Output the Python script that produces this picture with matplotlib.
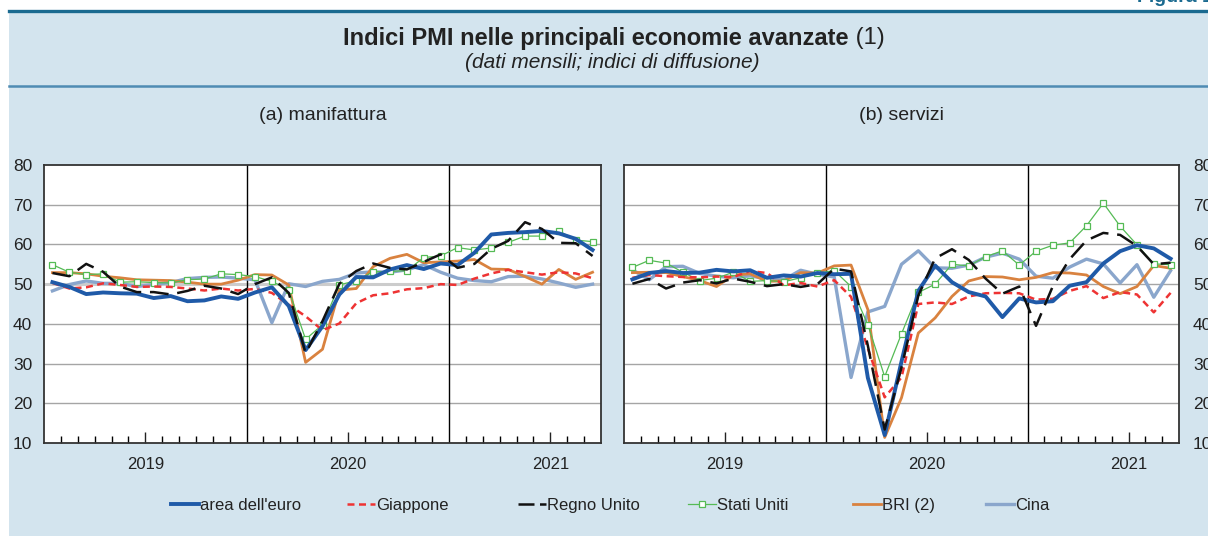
import matplotlib
matplotlib.use("Agg")
import matplotlib.pyplot as plt
from matplotlib.patches import Rectangle
from matplotlib.lines import Line2D
import numpy as np

plt.rcParams["font.family"] = ["Liberation Sans", "DejaVu Sans"]

# monthly data, Jan 2019 - Sep 2021
years = ["2019", "2020", "2021"]

manif_euro = [50.5, 49.3, 47.5, 47.9, 47.7, 47.6, 46.5, 47.0, 45.7, 45.9, 46.9, 46.3,
              47.9, 49.2, 44.5, 33.4, 39.4, 47.4, 51.8, 51.7, 53.7, 54.8, 53.8, 55.2,
              54.8, 57.9, 62.5, 62.9, 63.1, 63.4, 62.8, 61.4, 58.6]
manif_jp = [50.3, 48.9, 49.2, 50.2, 49.8, 49.3, 49.4, 49.3, 48.9, 48.4, 48.9, 48.4,
            48.8, 47.8, 44.8, 41.9, 38.4, 40.1, 45.2, 47.2, 47.7, 48.7, 49.0, 50.0,
            49.8, 51.4, 52.7, 53.6, 53.0, 52.4, 53.0, 52.7, 51.5]
manif_uk = [52.8, 52.0, 55.1, 53.1, 49.4, 48.0, 48.0, 47.4, 48.3, 49.6, 48.9, 47.5,
            50.0, 51.7, 47.8, 32.6, 40.7, 50.1, 53.3, 55.2, 54.1, 53.7, 55.6, 57.5,
            54.1, 55.1, 58.9, 60.9, 65.6, 63.9, 60.4, 60.3, 57.1]
manif_us = [54.9, 53.0, 52.4, 52.6, 50.5, 50.6, 50.4, 50.3, 51.1, 51.3, 52.6, 52.4,
            51.9, 50.7, 48.5, 36.1, 39.8, 49.8, 50.9, 53.1, 53.2, 53.4, 56.7, 57.1,
            59.2, 58.6, 59.1, 60.5, 62.1, 62.1, 63.4, 61.1, 60.7]
manif_bri = [52.9, 52.9, 52.6, 52.0, 51.6, 51.1, 51.0, 50.9, 50.5, 50.0, 50.0, 51.0,
             52.4, 52.3, 49.8, 30.3, 33.6, 48.5, 48.9, 54.4, 56.5, 57.5, 55.4, 55.6,
             55.8, 56.2, 53.8, 53.7, 51.9, 50.0, 53.7, 51.2, 53.0]
manif_cn = [48.3, 49.9, 50.8, 50.2, 50.2, 49.4, 49.9, 50.4, 51.4, 51.7, 51.8, 51.5,
            51.1, 40.3, 50.1, 49.4, 50.7, 51.2, 52.8, 53.1, 53.0, 53.6, 54.9, 53.0,
            51.5, 50.9, 50.6, 51.9, 52.0, 51.3, 50.3, 49.2, 50.0]

serv_euro = [51.2, 52.8, 53.3, 52.8, 52.9, 53.6, 53.2, 53.5, 51.6, 52.2, 51.9, 52.8,
             52.5, 52.6, 26.4, 12.0, 30.5, 48.3, 54.7, 50.5, 48.0, 46.9, 41.7, 46.4,
             45.4, 45.7, 49.6, 50.5, 55.2, 58.3, 59.8, 59.0, 56.4]
serv_jp = [51.6, 52.3, 52.0, 51.8, 51.7, 51.9, 51.8, 53.3, 52.8, 49.7, 50.3, 49.4,
           51.0, 46.8, 33.8, 21.5, 26.5, 45.0, 45.4, 45.0, 46.9, 47.7, 47.8, 47.7,
           46.1, 46.3, 48.3, 49.5, 46.5, 48.0, 47.4, 42.9, 47.8]
serv_uk = [50.1, 51.3, 48.9, 50.4, 51.0, 50.2, 51.4, 50.6, 49.5, 50.0, 49.3, 50.0,
           53.9, 53.2, 34.5, 13.4, 29.0, 47.1, 56.5, 58.8, 56.1, 51.4, 47.6, 49.4,
           39.5, 49.5, 56.3, 61.0, 62.9, 62.4, 59.6, 55.0, 55.4]
serv_us = [54.2, 56.0, 55.3, 53.0, 50.9, 51.5, 53.0, 50.7, 50.9, 50.6, 51.6, 52.8,
           53.4, 49.4, 39.8, 26.7, 37.5, 47.9, 50.0, 55.0, 54.6, 56.9, 58.4, 54.8,
           58.3, 59.8, 60.4, 64.7, 70.4, 64.6, 59.9, 55.1, 54.9]
serv_bri = [52.9, 53.0, 52.9, 51.9, 50.9, 49.4, 52.3, 52.6, 50.7, 50.8, 52.9, 52.8,
            54.6, 54.8, 43.6, 11.4, 21.4, 37.7, 41.5, 46.9, 50.8, 51.9, 51.8, 51.1,
            51.7, 52.9, 52.8, 52.3, 49.4, 47.6, 49.4, 54.7, 54.0]
serv_cn = [53.6, 51.1, 54.4, 54.5, 52.7, 52.0, 51.6, 52.1, 51.3, 51.1, 53.5, 52.5,
           51.8, 26.5, 43.0, 44.4, 55.0, 58.4, 54.1, 54.0, 54.8, 56.8, 57.8, 56.3,
           52.0, 51.5, 54.3, 56.3, 55.1, 50.3, 54.9, 46.7, 53.4]

labels = ["area dell'euro", "Giappone", "Regno Unito", "Stati Uniti", "BRI (2)", "Cina"]

BG = "#D3E4EE"
TXT = "#222222"
styles = [
    dict(color="#1F5AA8", lw=2.8, ls="-"),
    dict(color="#EE3333", lw=1.8, ls=(0, (2.8, 1.8))),
    dict(color="#111111", lw=1.8, ls=(0, (7.5, 3.5))),
    dict(color="#55BB55", lw=0.9, ls="-", marker="s", ms=4.5, mfc="white", mec="#55BB55", mew=0.9),
    dict(color="#D9823F", lw=2.0, ls="-"),
    dict(color="#8AA6CC", lw=2.4, ls="-"),
]
zorders = [6, 5, 7, 4, 3, 2]

fig = plt.figure(figsize=(12.08, 5.36), dpi=100)
fig.patch.set_facecolor("white")
W, H = 1208, 536


def fx(px):
    return px / W


def fy(py):
    return 1 - py / H


bg = Rectangle((fx(9), 0), 1 - fx(9), fy(10), transform=fig.transFigure,
               facecolor=BG, edgecolor="none", zorder=-10)
fig.add_artist(bg)
fig.add_artist(Line2D([fx(9), 1], [fy(10.5), fy(10.5)], color="#1A6A90", lw=2.4, zorder=-5))
fig.add_artist(Line2D([fx(9), 1], [fy(86), fy(86)], color="#4F8BB3", lw=1.8, zorder=-5))

fig.text(fx(1137), fy(2), "Figura 1", color="#1A6A90", fontsize=14, fontweight="bold",
         va="baseline", ha="left")

# title: bold part + regular "(1)", centred as a whole
r = fig.canvas.get_renderer()
t1 = fig.text(0, fy(38), "Indici PMI nelle principali economie avanzate", fontsize=17,
              fontweight="bold", ha="left", va="center", color=TXT)
t2 = fig.text(0, fy(38), " (1)", fontsize=17, ha="left", va="center", color=TXT)
w1 = t1.get_window_extent(r).width
w2 = t2.get_window_extent(r).width
start = (W - w1 - w2) / 2 + 10
t1.set_x(fx(start))
t2.set_x(fx(start + w1))
fig.text(fx(612), fy(62.5), "(dati mensili; indici di diffusione)", fontsize=15, style="italic",
         ha="center", va="center", color=TXT)

months = np.arange(33) + 0.5

panels = [
    (44, 601, "(a) manifattura", [manif_euro, manif_jp, manif_uk, manif_us, manif_bri, manif_cn], "left"),
    (624, 1179, "(b) servizi", [serv_euro, serv_jp, serv_uk, serv_us, serv_bri, serv_cn], "right"),
]

for x0, x1, title, series, side in panels:
    ax = fig.add_axes([fx(x0), fy(443), fx(x1 - x0), (443 - 165) / H])
    ax.set_facecolor("white")
    ax.set_xlim(0, 33)
    ax.set_ylim(10, 80)
    for yv in range(20, 80, 10):
        if yv == 50 and side == "left":
            ax.axhline(yv, color="#CCCCCC", lw=2.2, zorder=1)
        else:
            ax.axhline(yv, color="#A5A5A5", lw=1.0, zorder=1)
    for xv in (12, 24):
        ax.axvline(xv, color="black", lw=1.0, zorder=1.5)
    for vals, st, z in zip(series, styles, zorders):
        ax.plot(months, vals, zorder=z, **st)
    ax.set_yticks(range(10, 90, 10))
    ax.tick_params(axis="y", length=0, labelsize=12.5, colors=TXT,
                   left=False, labelleft=(side == "left"),
                   right=False, labelright=(side == "right"),
                   pad=8.5 if side == "left" else 10)
    ax.set_xticks([6, 18, 30])
    ax.set_xticklabels(years)
    ax.set_xticks([m for m in range(1, 33) if m not in (6, 12, 18, 24, 30)], minor=True)
    ax.tick_params(axis="x", which="major", direction="in", length=8, width=1,
                   labelsize=12, colors=TXT, pad=10)
    ax.tick_params(axis="x", which="minor", direction="in", length=5, width=1)
    for sp in ax.spines.values():
        sp.set_color("#333333")
        sp.set_linewidth(1.3)
    fig.text(fx((x0 + x1) / 2), fy(116), title, fontsize=14, ha="center", va="center",
             color=TXT)

# legend entries at the reference column positions, top-aligned so the text lines up
legend_x = [171, 347, 518, 688, 853, 986]
for lab, st, lx in zip(labels, styles, legend_x):
    hst = dict(st)
    if lab == "Regno Unito":
        hst["ls"] = (0, (6.4, 2.2))
    fig.legend([Line2D([], [], **hst)], [lab], loc="upper left",
               bbox_to_anchor=(fx(lx), fy(498)), frameon=False, fontsize=12,
               handlelength=1.65, handletextpad=0.1, borderpad=0, borderaxespad=0,
               labelcolor=TXT)

fig.savefig("out.png", dpi=100, facecolor="white")
